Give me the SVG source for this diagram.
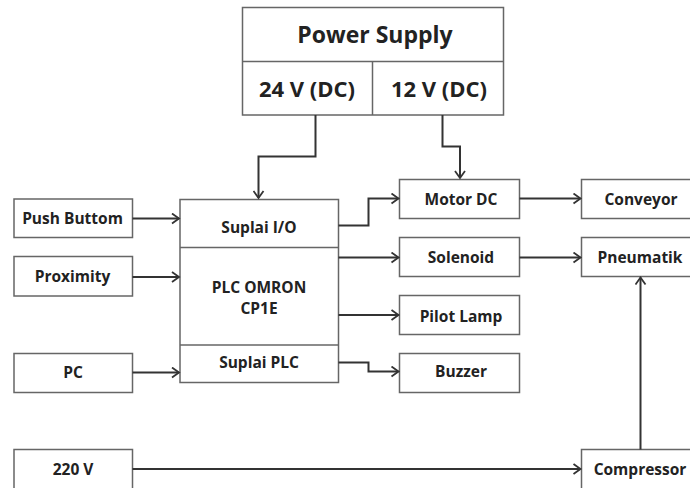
<svg xmlns="http://www.w3.org/2000/svg" width="690" height="488" viewBox="0 0 690 488">
<defs>
<marker id="arr" markerWidth="12" markerHeight="12" refX="10" refY="6" orient="auto" markerUnits="userSpaceOnUse">
<polyline points="3,1 10,6 3,11" fill="none" stroke="#333" stroke-width="1.8"/>
</marker>
<style>
.box{fill:#fff;stroke:#666;stroke-width:1.5}
.sep{stroke:#666;stroke-width:1.5}
.t{font-family:"Open Sans","Noto Sans","DejaVu Sans",sans-serif;font-weight:700;font-size:15.5px;fill:#222;text-anchor:middle}
.big{font-size:23px}
.mid{font-size:22px}
.c{fill:none;stroke:#333;stroke-width:2;marker-end:url(#arr)}
</style>
</defs>
<rect width="690" height="488" fill="#fff"/>
<g id="power-supply">
<rect class="box" x="242.5" y="7.5" width="261" height="107.5"/>
<line class="sep" x1="242.5" y1="61.5" x2="503.5" y2="61.5"/>
<line class="sep" x1="372.5" y1="61.5" x2="372.5" y2="115"/>
<text class="t big" x="375" y="43">Power Supply</text>
<text class="t mid" x="307" y="97">24 V (DC)</text>
<text class="t mid" x="439" y="97">12 V (DC)</text>
</g>
<g id="push-buttom">
<rect class="box" x="14" y="199" width="118.5" height="38.5"/>
<text class="t" x="72.5" y="223.5">Push Buttom</text>
</g>
<g id="proximity">
<rect class="box" x="14" y="256.5" width="118.5" height="39.5"/>
<text class="t" x="72.5" y="282">Proximity</text>
</g>
<g id="pc">
<rect class="box" x="14" y="353.5" width="118.5" height="39"/>
<text class="t" x="73" y="378">PC</text>
</g>
<g id="v220">
<rect class="box" x="14" y="449.5" width="118.5" height="45"/>
<text class="t" x="73" y="474.5">220 V</text>
</g>
<g id="plc">
<rect class="box" x="180" y="199.5" width="158.5" height="183"/>
<line class="sep" x1="180" y1="247.5" x2="338.5" y2="247.5"/>
<line class="sep" x1="180" y1="345" x2="338.5" y2="345"/>
<text class="t" x="259" y="232.5">Suplai I/O</text>
<text class="t" x="259" y="292.5">PLC OMRON</text>
<text class="t" x="259" y="313.5">CP1E</text>
<text class="t" x="259" y="367.5">Suplai PLC</text>
</g>
<g id="motor-dc">
<rect class="box" x="399.5" y="179.5" width="120" height="39"/>
<text class="t" x="461" y="204.5">Motor DC</text>
</g>
<g id="solenoid">
<rect class="box" x="399.5" y="237.5" width="120" height="39"/>
<text class="t" x="461" y="262.5">Solenoid</text>
</g>
<g id="pilot-lamp">
<rect class="box" x="399.5" y="295.5" width="120" height="39"/>
<text class="t" x="461" y="322">Pilot Lamp</text>
</g>
<g id="buzzer">
<rect class="box" x="399.5" y="353.5" width="120" height="39"/>
<text class="t" x="461" y="377">Buzzer</text>
</g>
<g id="conveyor">
<rect class="box" x="581.5" y="179.5" width="118" height="39"/>
<text class="t" x="641" y="204.5">Conveyor</text>
</g>
<g id="pneumatik">
<rect class="box" x="581.5" y="237.5" width="118" height="39"/>
<text class="t" x="640" y="262.5">Pneumatik</text>
</g>
<g id="compressor">
<rect class="box" x="581.5" y="449.5" width="118" height="45"/>
<text class="t" x="640" y="474.5">Compressor</text>
</g>
<g id="connectors">
<polyline class="c" points="315.5,115 315.5,156.5 258.5,156.5 258.5,198"/>
<polyline class="c" points="442.5,115 442.5,146.5 460,146.5 460,178"/>
<line class="c" x1="132.5" y1="218.5" x2="179" y2="218.5"/>
<line class="c" x1="132.5" y1="277" x2="179" y2="277"/>
<line class="c" x1="132.5" y1="372.5" x2="179" y2="372.5"/>
<polyline class="c" points="338.5,225.5 368.5,225.5 368.5,198.5 398.5,198.5"/>
<line class="c" x1="338.5" y1="257.5" x2="398.5" y2="257.5"/>
<line class="c" x1="338.5" y1="315" x2="398.5" y2="315"/>
<polyline class="c" points="338.5,362.5 368.5,362.5 368.5,371.5 398.5,371.5"/>
<line class="c" x1="519.5" y1="198.5" x2="580.5" y2="198.5"/>
<line class="c" x1="519.5" y1="257.5" x2="580.5" y2="257.5"/>
<line class="c" x1="640.5" y1="449.5" x2="640.5" y2="277.5"/>
<line class="c" x1="132.5" y1="469" x2="580.5" y2="469"/>
</g>
</svg>
